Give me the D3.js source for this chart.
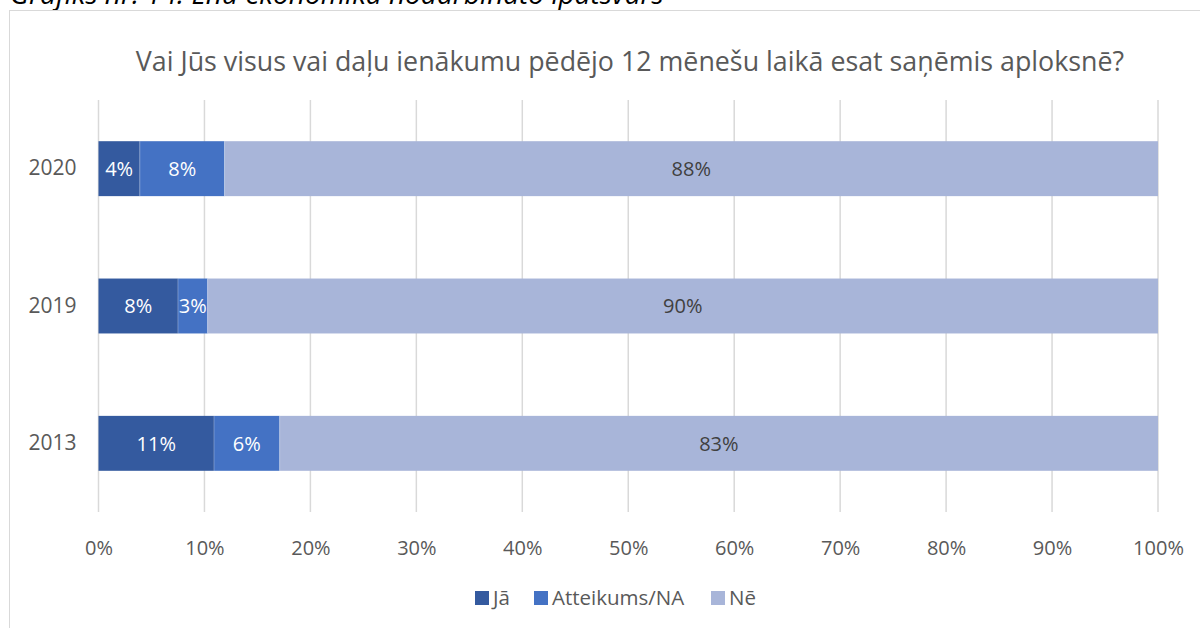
<!DOCTYPE html>
<html>
<head>
<meta charset="utf-8">
<script src="https://cdn.jsdelivr.net/npm/d3@7"></script>
<style>
  html, body { margin: 0; padding: 0; background: #fff; }
  svg { display: block; }
  text { font-family: "Open Sans", "Noto Sans", sans-serif; }
</style>
</head>
<body>
<svg id="chart" width="1200" height="628"></svg>
<script>
const categories = ["2020", "2019", "2013"];
const seriesNames = ["Jā", "Atteikums/NA", "Nē"];
const jaValues = [3.9, 7.5, 10.9];
const atteikumsValues = [8.0, 2.8, 6.2];
const neValues = [88.1, 89.7, 82.9];
const jaLabels = ["4%", "8%", "11%"];
const atteikumsLabels = ["8%", "3%", "6%"];
const neLabels = ["88%", "90%", "83%"];
const xTicks = [0, 10, 20, 30, 40, 50, 60, 70, 80, 90, 100];
const colors = ["#345A9F", "#4472C4", "#A8B5D9"];
const labelColors = ["#ffffff", "#ffffff", "#404040"];
const chartTitle = "Vai Jūs visus vai daļu ienākumu pēdējo 12 mēnešu laikā esat saņēmis aploksnē?";
const captionText = "Grafiks nr. 14. Ēnu ekonomikā nodarbināto īpatsvars";

const svg = d3.select("#chart");

// caption partially cut off at top (as in the reference)
svg.append("text")
  .attr("x", 10).attr("y", 4)
  .attr("font-size", 28).attr("font-style", "italic")
  .attr("fill", "#000")
  .text(captionText);

// chart border
svg.append("rect")
  .attr("x", 9.5).attr("y", 10.5)
  .attr("width", 1200).attr("height", 640)
  .attr("fill", "#fff").attr("stroke", "#d9d9d9").attr("stroke-width", 1);

const margin = { left: 98.5, right: 1158, top: 100, bottom: 512 };

const x = d3.scaleLinear().domain([0, 100]).range([margin.left, margin.right]);
const y = d3.scaleBand().domain(categories).range([margin.top, margin.bottom]).paddingInner(0.6).paddingOuter(0.3);

// title
svg.append("text")
  .attr("x", 630).attr("y", 71)
  .attr("text-anchor", "middle")
  .attr("font-size", 26.8).attr("fill", "#595959")
  .text(chartTitle);

// gridlines
svg.append("g")
  .selectAll("line")
  .data(xTicks)
  .join("line")
  .attr("x1", d => x(d)).attr("x2", d => x(d))
  .attr("y1", margin.top).attr("y2", margin.bottom)
  .attr("stroke", "#d9d9d9").attr("stroke-width", 1.5);

// x axis tick labels
const xAxis = d3.axisBottom(x).tickValues(xTicks).tickFormat(d => d + "%").tickSize(0).tickPadding(0);
const gx = svg.append("g").attr("transform", `translate(0, ${margin.bottom + 43})`).call(xAxis);
gx.select(".domain").remove();
gx.selectAll("text").attr("font-size", 20).attr("fill", "#595959").attr("font-family", "Open Sans, sans-serif").attr("dy", 0);

// y axis labels
const yAxis = d3.axisLeft(y).tickSize(0).tickPadding(22);
const gy = svg.append("g").attr("transform", `translate(${margin.left}, 0)`).call(yAxis);
gy.select(".domain").remove();
gy.selectAll("text").attr("font-size", 21).attr("fill", "#595959").attr("font-family", "Open Sans, sans-serif");

// stacked data
const rows = categories.map((c, i) => ({ cat: c, "Jā": jaValues[i], "Atteikums/NA": atteikumsValues[i], "Nē": neValues[i] }));
const labelsBySeries = [jaLabels, atteikumsLabels, neLabels];
const stack = d3.stack().keys(seriesNames)(rows);

const layers = svg.append("g").selectAll("g")
  .data(stack)
  .join("g")
  .attr("fill", (d, i) => colors[i]);

layers.selectAll("rect")
  .data(d => d)
  .join("rect")
  .attr("x", d => x(d[0]))
  .attr("width", d => x(d[1]) - x(d[0]))
  .attr("y", d => y(d.data.cat))
  .attr("height", y.bandwidth());

// thin separators between segments
stack.slice(0, 2).forEach(layer => {
  svg.append("g").selectAll("line")
    .data(layer)
    .join("line")
    .attr("x1", d => x(d[1])).attr("x2", d => x(d[1]))
    .attr("y1", d => y(d.data.cat)).attr("y2", d => y(d.data.cat) + y.bandwidth())
    .attr("stroke", "#ffffff").attr("stroke-opacity", 0.35).attr("stroke-width", 0.8);
});

// data labels
stack.forEach((layer, si) => {
  svg.append("g").selectAll("text")
    .data(layer)
    .join("text")
    .attr("x", d => (x(d[0]) + x(d[1])) / 2)
    .attr("y", d => y(d.data.cat) + y.bandwidth() / 2)
    .attr("dy", "0.36em")
    .attr("text-anchor", "middle")
    .attr("font-size", 20)
    .attr("fill", labelColors[si])
    .text((d, i) => labelsBySeries[si][i]);
});

// legend
const legendItems = [
  { name: seriesNames[0], color: colors[0], x: 475 },
  { name: seriesNames[1], color: colors[1], x: 534 },
  { name: seriesNames[2], color: colors[2], x: 711 }
];
const lg = svg.append("g").selectAll("g").data(legendItems).join("g")
  .attr("transform", d => `translate(${d.x}, 598)`);
lg.append("rect").attr("x", 0).attr("y", -7).attr("width", 14).attr("height", 14).attr("fill", d => d.color);
lg.append("text").attr("x", 18).attr("y", 0).attr("dy", "0.36em")
  .attr("font-size", 20.5).attr("fill", "#595959").text(d => d.name);
</script>
</body>
</html>
